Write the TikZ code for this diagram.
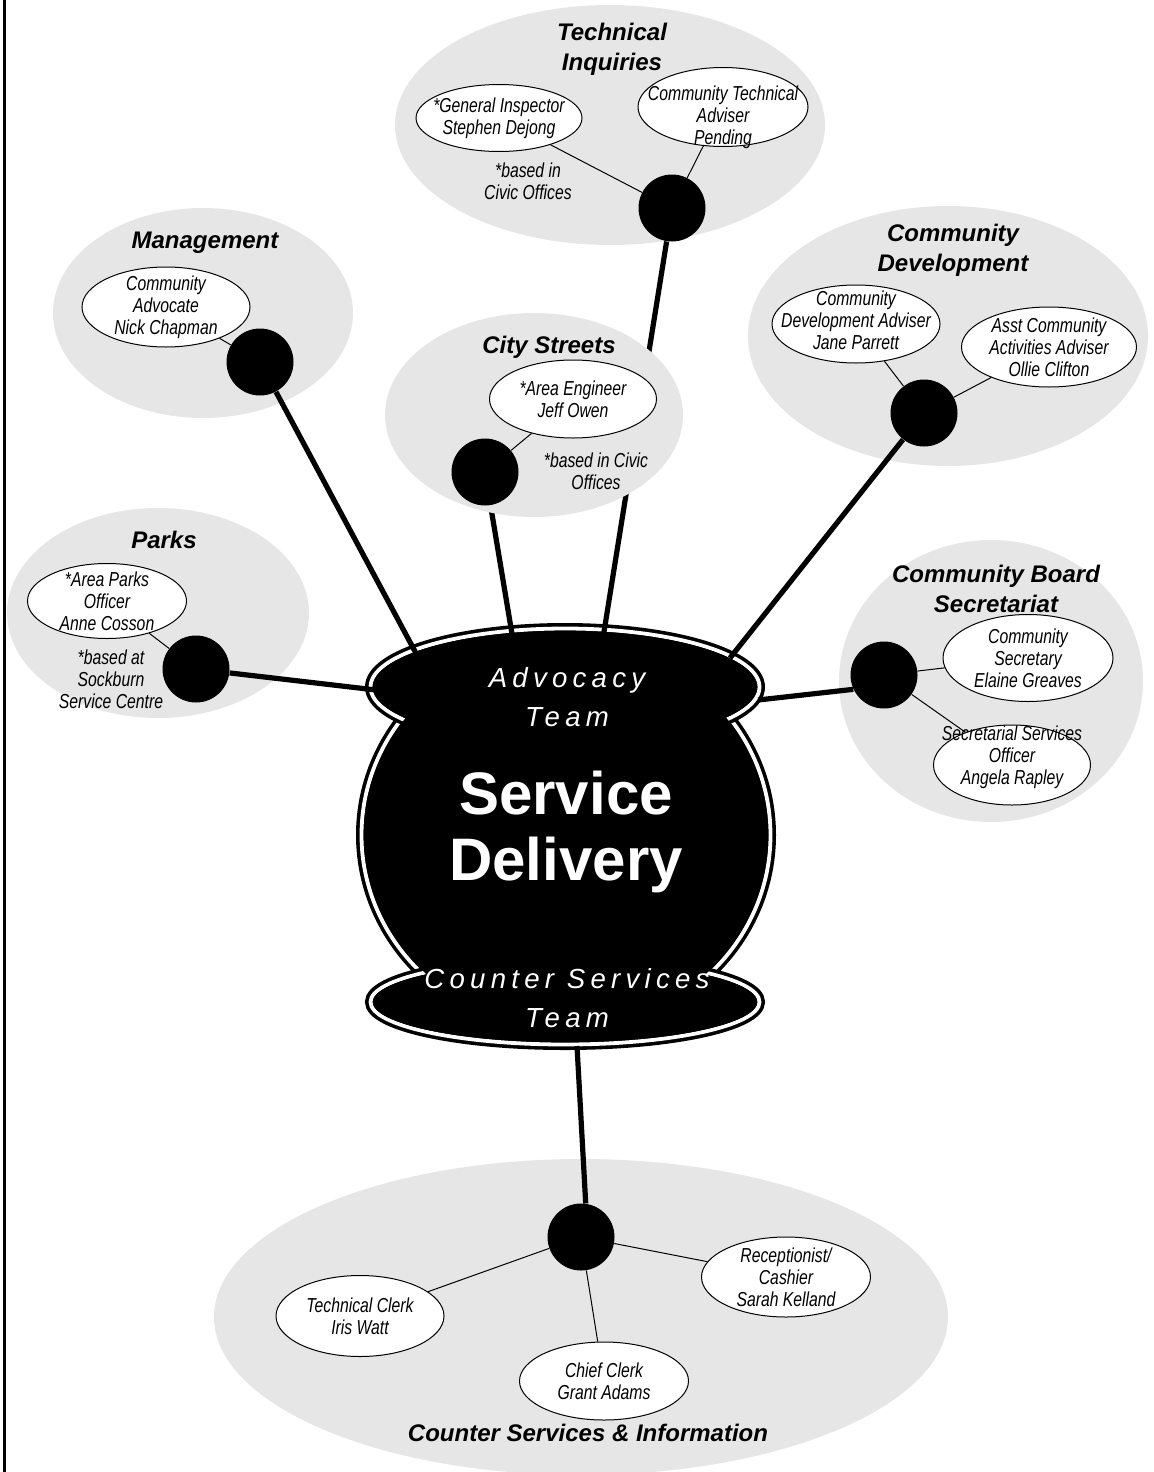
\documentclass[tikz,border=0pt]{standalone}
\usepackage{fontspec}
\usetikzlibrary{shapes.geometric}
\setmainfont{Liberation Sans}
\newfontfamily\slimfont{Liberation Sans}[FakeStretch=0.78]
\definecolor{Cblob}{HTML}{E6E6E6}
\pgfdeclarelayer{blobs}
\pgfdeclarelayer{under}
\pgfdeclarelayer{topblob}
\pgfsetlayers{blobs,under,topblob,main}

\tikzset{
  blob/.style={fill=Cblob},
  heading/.style={font=\bfseries\itshape\fontsize{12}{15}\selectfont, align=center, inner sep=0pt},
  note/.style={font=\slimfont\itshape\fontsize{10.1}{11}\selectfont, align=center, inner sep=0pt},
  pname/.style={font=\slimfont\itshape\fontsize{10.1}{11}\selectfont, align=center, inner sep=0pt},
  person/.style={ellipse, draw, fill=white, line width=0.5pt, inner sep=0pt},
  hub/.style={circle, fill=black, inner sep=0pt, minimum size=33.5pt},
  spoke/.style={line width=2.6pt},
  twig/.style={line width=0.5pt},
  rim/.style={draw=black, line width=1.8pt, double=white, double distance=1.9pt},
  teamtext/.style={text=white, align=center, inner sep=0pt,
    font=\itshape\fontsize{13.8}{19.5}\selectfont\addfontfeature{LetterSpace=19}},
  coretext/.style={text=white, align=center, inner sep=0pt,
    font=\bfseries\fontsize{30}{33}\selectfont}
}

\begin{document}
\begin{tikzpicture}[x=0.5pt, y=-0.5pt]
		\useasboundingbox (0,0) rectangle (1153,1472);
		\draw[line width=1.5pt] (4,0) -- (4,1472);

		% group areas
		\begin{pgfonlayer}{blobs}
		\fill[blob] (610,125) ellipse [x radius=215, y radius=120];
		\fill[blob] (203,313) ellipse [x radius=150, y radius=105];
		\fill[blob] (948,336) ellipse [x radius=200, y radius=130];
		\fill[blob] (158,613) ellipse [x radius=151, y radius=105];
		\fill[blob] (991,681) ellipse [x radius=152, y radius=141];
		\fill[blob] (581,1317) ellipse [x radius=367, y radius=158];
		\end{pgfonlayer}
		\begin{pgfonlayer}{topblob}
		\fill[blob] (534,415) ellipse [x radius=149, y radius=102];
		\end{pgfonlayer}

		\node[heading] (tiHead) at (612,49) {Technical\\Inquiries};
		\node[heading] (mgHead) at (205,243) {Management};
		\node[heading] (csHead) at (549,347) {City Streets};
		\node[heading] (cdHead) at (953,250) {Community\\Development};
		\node[heading] (pkHead) at (164,540) {Parks};
		\node[heading] (cbHead) at (996,589) {Community Board\\Secretariat};
		\node[heading] (ctHead) at (588,1433) {Counter Services \& Information};

		\node[note] (tiNote) at (528,181) {*based in\\Civic Offices};
		\node[note] (csNote) at (596,471) {*based in Civic\\Offices};
		\node[note] (pkNote) at (111,679) {*based at\\Sockburn\\Service Centre};

		% hubs
		\node[hub] (tiHub) at (672,208) {};
		\node[hub] (mgHub) at (260,362) {};
		\node[hub] (csHub) at (485,472) {};
		\node[hub] (cdHub) at (924,413) {};
		\node[hub] (pkHub) at (196,669) {};
		\node[hub] (cbHub) at (884,675) {};
		\node[hub] (ctHub) at (581,1237) {};

		% service delivery core
		\begin{pgfonlayer}{under}
		\draw[rim] (566,835) ellipse [x radius=204.5, y radius=195];
		\draw[rim] (565,687) ellipse [x radius=194.5, y radius=58.5];
		\draw[rim] (565,1002) ellipse [x radius=194.5, y radius=42.5];
		\fill (566,835) ellipse [x radius=202, y radius=192.5];
		\fill (565,687) ellipse [x radius=192, y radius=56];
		\fill (565,1002) ellipse [x radius=192, y radius=40];
		\node[teamtext] (advText) at (567,697) {Advocacy\\Team};
		\node[coretext] (sdText) at (566,832) {Service\\Delivery};
		\node[teamtext] (cstText) at (567,998) {Counter Services\\Team};

		\coordinate (tiEnd) at (603,638);
		\coordinate (mgEnd) at (418,657);
		\coordinate (csEnd) at (513,640);
		\coordinate (cdEnd) at (730,658);
		\coordinate (pkEnd) at (376,690);
		\coordinate (cbEnd) at (758,700);
		\coordinate (ctEnd) at (577,1046);

		\draw[spoke] (tiHub) -- (tiEnd);
		\draw[spoke] (mgHub) -- (mgEnd);
		\draw[spoke] (csHub) -- (csEnd);
		\draw[spoke] (cdHub) -- (cdEnd);
		\draw[spoke] (pkHub) -- (pkEnd);
		\draw[spoke] (cbHub.205) -- (cbEnd);
		\draw[spoke] (ctHub.82) -- (ctEnd);
		\end{pgfonlayer}

		% staff
		\node[person, minimum width=83pt, minimum height=33.5pt,
			label={[pname]center:{*General Inspector\\Stephen Dejong}}] (giNode) at (499,118) {};
		\node[person, minimum width=85pt, minimum height=39.5pt,
			label={[pname, yshift=-5pt]center:{Community Technical\\Adviser\\Pending}}] (ctaNode) at (723,107) {};
		\node[person, minimum width=84pt, minimum height=40pt,
			label={[pname]center:{Community\\Advocate\\Nick Chapman}}] (caNode) at (166,307) {};
		\node[person, minimum width=83.5pt, minimum height=39pt,
			label={[pname]center:{*Area Engineer\\Jeff Owen}}] (aeNode) at (573,399) {};
		\node[person, minimum width=84pt, minimum height=39pt,
			label={[pname, yshift=2pt]center:{Community\\Development Adviser\\Jane Parrett}}] (cdaNode) at (856,324) {};
		\node[person, minimum width=87.5pt, minimum height=40pt,
			label={[pname]center:{Asst Community\\Activities Adviser\\Ollie Clifton}}] (acaNode) at (1049,347) {};
		\node[person, minimum width=79.5pt, minimum height=37.5pt,
			label={[pname]center:{*Area Parks\\Officer\\Anne Cosson}}] (apoNode) at (107,601) {};
		\node[person, minimum width=85pt, minimum height=43.5pt,
			label={[pname]center:{Community\\Secretary\\Elaine Greaves}}] (csecNode) at (1028,658) {};
		\node[person, minimum width=78.5pt, minimum height=40pt,
			label={[pname, yshift=4pt]center:{Secretarial Services\\Officer\\Angela Rapley}}] (ssoNode) at (1012,765) {};
		\node[person, minimum width=84pt, minimum height=40.5pt,
			label={[pname]center:{Technical Clerk\\Iris Watt}}] (tcNode) at (360,1316) {};
		\node[person, minimum width=84.5pt, minimum height=40pt,
			label={[pname]center:{Receptionist/\\Cashier\\Sarah Kelland}}] (rcNode) at (786,1277) {};
		\node[person, minimum width=84.5pt, minimum height=39pt,
			label={[pname]center:{Chief Clerk\\Grant Adams}}] (ccNode) at (604,1381) {};

		\draw[twig] (tiHub) -- (giNode);
		\draw[twig] (tiHub) -- (ctaNode);
		\draw[twig] (mgHub) -- (caNode);
		\draw[twig] (csHub) -- (aeNode);
		\draw[twig] (cdHub) -- (cdaNode);
		\draw[twig] (cdHub) -- (acaNode);
		\draw[twig] (pkHub) -- (apoNode);
		\draw[twig] (cbHub) -- (csecNode);
		\draw[twig] (cbHub) -- (ssoNode);
		\draw[twig] (ctHub) -- (tcNode);
		\draw[twig] (ctHub) -- (rcNode);
		\draw[twig] (ctHub) -- (ccNode);
	\end{tikzpicture}
\end{document}
